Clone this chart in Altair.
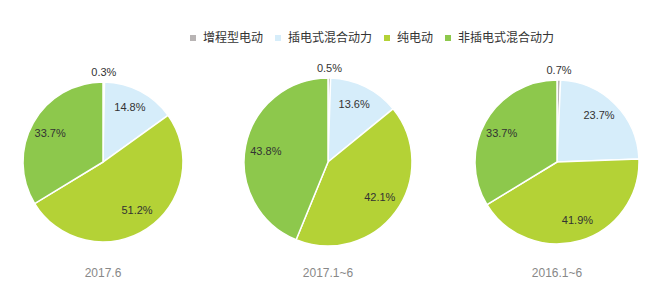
import altair as alt
import pandas as pd

categories = ["增程型电动", "插电式混合动力", "纯电动", "非插电式混合动力"]
colors = ["#b8b4b4", "#d6edfa", "#b4d236", "#8dc84c"]
periods = ["2017.6", "2017.1~6", "2016.1~6"]
shares_2017_6 = [0.3, 14.8, 51.2, 33.7]
shares_2017_1_6 = [0.5, 13.6, 42.1, 43.8]
shares_2016_1_6 = [0.7, 23.7, 41.9, 33.7]
all_shares = [shares_2017_6, shares_2017_1_6, shares_2016_1_6]

view_widths = [206, 244, 214]
radii = [80, 84, 82]
VIEW_H = 240
FONT = "Liberation Sans, Noto Sans CJK SC, sans-serif"

color_scale = alt.Scale(domain=categories, range=colors)


def make_pie(i):
    period = periods[i]
    r = radii[i]
    df = pd.DataFrame({
        "category": categories,
        "share": all_shares[i],
        "idx": list(range(len(categories))),
    })
    df["label"] = df["share"].map(lambda v: f"{v}%")
    base = alt.Chart(df).encode(
        theta=alt.Theta("share:Q", stack=True),
        order=alt.Order("idx:Q"),
    )
    arcs = base.mark_arc(radius=r, stroke="white", strokeWidth=1.5).encode(
        color=alt.Color(
            "category:N",
            scale=color_scale,
            sort=categories,
            legend=alt.Legend(
                title=None,
                orient="none",
                direction="horizontal",
                legendX=187,
                legendY=-10,
                symbolType="square",
                symbolSize=36,
                symbolStrokeWidth=0,
                labelFont=FONT,
                labelFontSize=12,
                labelColor="#333333",
                columnPadding=8,
                labelOffset=4,
            ),
        )
    )
    texts = base.transform_calculate(
        rad=f"datum.share < 2 ? {r + 9} : {round(r * 0.75)}"
    ).mark_text(font=FONT, fontSize=11, color="#333333").encode(
        text="label:N",
        radius=alt.Radius("rad:Q", scale=None),
    )
    return (arcs + texts).properties(
        width=view_widths[i],
        height=VIEW_H,
        title=alt.TitleParams(
            period,
            orient="bottom",
            offset=0,
            dy=-14,
            font=FONT,
            fontSize=12,
            fontWeight="normal",
            color="#888888",
        ),
    )


chart = alt.hconcat(*[make_pie(i) for i in range(3)], spacing=0).properties(
    padding={"left": 0, "top": 32, "right": 0, "bottom": 0}
).configure_view(stroke=None).configure(background="white")

chart.save("out.html", embed_options={"renderer": "svg", "actions": False})
